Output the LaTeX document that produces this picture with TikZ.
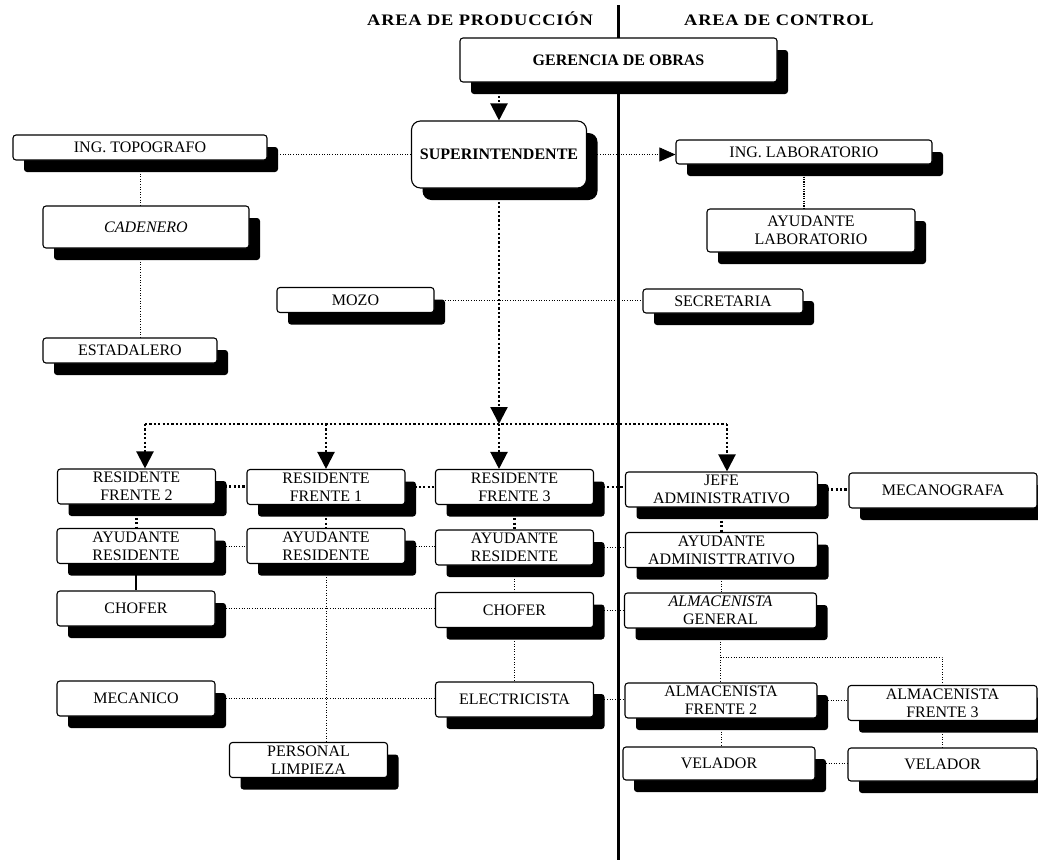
\documentclass[tikz,border=0pt]{standalone}
\usepackage{fontspec}
\setmainfont{Liberation Serif}
\usetikzlibrary{arrows.meta, backgrounds, shadows}

\begin{document}
\begin{tikzpicture}[x=1pt, y=-1pt,
        puesto/.style={draw, line width=1.1pt, fill=white, rounded corners=3pt, inner sep=0pt, align=center, font=\fontsize{16}{18}\selectfont, drop shadow={shadow xshift=11pt, shadow yshift=-12pt, fill=black, opacity=1}},
        negrita/.style={font=\fontsize{16}{18}\selectfont\bfseries},
        frente/.style={puesto, minimum width=158pt, minimum height=35pt},
        admin/.style={puesto, minimum width=192pt, minimum height=35pt},
        titulo/.style={anchor=base, font={\fontsize{16}{16}\selectfont\bfseries\addfontfeature{FakeStretch=1.15,LetterSpace=5}}},
        gruesa/.style={line width=2.2pt, dash pattern=on 2.2pt off 2.2pt},
        media/.style={line width=1.3pt, dash pattern=on 1.2pt off 1.2pt},
        fina/.style={line width=0.7pt, dash pattern=on 1pt off 1.6pt},
        flecha/.style={-{Triangle[width=17pt,length=17pt]}},
        flechita/.style={-{Triangle[width=14pt,length=16pt]}}]
        \useasboundingbox (0,0) rectangle (1038,863);
        \node[titulo] (tprod) at (480,25.5) {AREA DE PRODUCCIÓN};
        \node[titulo] (tcontrol) at (779,25.5) {AREA DE CONTROL};
        \coordinate (divA) at (618,5);
        \coordinate (divB) at (618,860);
        \coordinate (busL) at (145,424);
        \coordinate (busR) at (727,424);
        \coordinate (bifurca) at (720.5,657);

        \node[puesto, negrita, minimum width=317pt, minimum height=44pt] (gerencia) at (618.5,60) {GERENCIA DE OBRAS};
        \node[puesto, negrita, rounded corners=9pt, minimum width=175pt, minimum height=67pt] (super) at (499,154.5) {SUPERINTENDENTE};
        \node[puesto, minimum width=254pt, minimum height=25pt] (topo) at (140,147.5) {ING. TOPOGRAFO};
        \node[puesto, minimum width=206pt, minimum height=42pt] (cadenero) at (146,227) {\itshape CADENERO};
        \node[puesto, minimum width=157pt, minimum height=25pt] (mozo) at (355.5,300) {MOZO};
        \node[puesto, minimum width=174pt, minimum height=25pt] (estadalero) at (130,350.5) {ESTADALERO};
        \node[puesto, minimum width=256pt, minimum height=24pt] (lab) at (804,152) {ING. LABORATORIO};
        \node[puesto, minimum width=208pt, minimum height=43pt] (ayulab) at (811,230.5) {AYUDANTE\\LABORATORIO};
        \node[puesto, minimum width=160pt, minimum height=24pt] (secretaria) at (723,301) {SECRETARIA};

        \node[frente] (r2) at (136.5,486.5) {RESIDENTE\\FRENTE 2};
        \node[frente] (r1) at (326,487) {RESIDENTE\\FRENTE 1};
        \node[frente] (r3) at (514.5,487) {RESIDENTE\\FRENTE 3};
        \node[admin] (jefe) at (721.5,489.5) {JEFE\\ADMINISTRATIVO};
        \node[admin, minimum width=188pt] (mecanografa) at (943,490.5) {MECANOGRAFA};
        \node[frente] (a2) at (136,546) {AYUDANTE\\RESIDENTE};
        \node[frente] (a1) at (326,546) {AYUDANTE\\RESIDENTE};
        \node[frente] (a3) at (514.5,547.5) {AYUDANTE\\RESIDENTE};
        \node[admin] (ayuadm) at (721.5,550) {AYUDANTE\\ADMINISTTRATIVO};
        \node[frente] (c2) at (136,608.5) {CHOFER};
        \node[frente] (c3) at (514.5,610) {CHOFER};
        \node[admin] (almgen) at (720.5,610.5) {\textit{ALMACENISTA}\\GENERAL};
        \node[frente] (mecanico) at (136,698.5) {MECANICO};
        \node[frente] (electricista) at (514.5,699.5) {ELECTRICISTA};
        \node[admin] (almf2) at (721,700.5) {ALMACENISTA\\FRENTE 2};
        \node[admin, minimum width=189pt] (almf3) at (942.5,703) {ALMACENISTA\\FRENTE 3};
        \node[frente] (limpieza) at (308.5,760) {PERSONAL\\LIMPIEZA};
        \node[admin, minimum height=33pt] (vel2) at (719,763.5) {VELADOR};
        \node[admin, minimum width=189pt, minimum height=33pt] (vel3) at (942.5,764.5) {VELADOR};

        \begin{scope}[on background layer]
        \fill[white] (0,0) rectangle (1038,863);
        \draw[line width=3pt] (divA) -- (divB);
        \draw[gruesa, flecha] (super.north |- gerencia.south) -- (super.north);
        \draw[gruesa, flecha] (super.south) -- (super.south |- busL);
        \draw[gruesa] (busL) -- (busR);
        \draw[gruesa, flecha] (busL) -- (busL |- r2.north);
        \draw[gruesa, flecha] (r1.north |- busL) -- (r1.north);
        \draw[gruesa, flecha] (super.south |- busL) -- (super.south |- r3.north);
        \draw[gruesa, flecha] (busR) -- (busR |- jefe.north);
        \draw[gruesa] (r2.east) -- (r2.east -| r1.west);
        \draw[gruesa] (r1.east) -- (r1.east -| r3.west);
        \draw[gruesa] (r3.east) -- (r3.east -| jefe.west);
        \draw[gruesa] (jefe.east) -- (jefe.east -| mecanografa.west);
        \draw[gruesa] (r2.south) -- (r2.south |- a2.north);
        \draw[gruesa] (r1.south) -- (a1.north);
        \draw[gruesa] (r3.south) -- (r3.south |- a3.north);
        \draw[gruesa] (jefe.south) -- (jefe.south |- ayuadm.north);
        \draw[line width=1.2pt] (a2.south) -- (c2.north);
        \draw[fina] (a2.east) -- (a2.east -| a1.west);
        \draw[fina] (a1.east) -- (a1.east -| a3.west);
        \draw[fina] (a3.east) -- (a3.east -| ayuadm.west);
        \draw[fina] (c2.east) -- (c2.east -| c3.west);
        \draw[fina] (c3.east) -- (c3.east -| almgen.west);
        \draw[fina] (mecanico.east) -- (mecanico.east -| electricista.west);
        \draw[fina] (electricista.east) -- (electricista.east -| almf2.west);
        \draw[fina] (a1.south) -- (a1.south |- limpieza.north);
        \draw[fina] (a3.south) -- (c3.north);
        \draw[fina] (c3.south) -- (electricista.north);
        \draw[fina] (ayuadm.south) -- (ayuadm.south |- almgen.north);
        \draw[fina] (almgen.south) -- (almgen.south |- almf2.north);
        \draw[fina] (bifurca) -| (almf3.north);
        \draw[fina] (almf2.east) -- (almf2.east -| almf3.west);
        \draw[fina] (almf2.south) -- (almf2.south |- vel2.north);
        \draw[fina] (almf3.south) -- (vel3.north);
        \draw[fina] (vel2.east) -- (vel2.east -| vel3.west);
        \draw[fina] (super.west) -- (super.west -| topo.east);
        \draw[fina, flechita] (super.east) -- (super.east -| lab.west);
        \draw[fina] (topo.south) -- (topo.south |- cadenero.north);
        \draw[fina] (topo.south |- cadenero.south) -- (topo.south |- estadalero.north);
        \draw[media] (lab.south) -- (lab.south |- ayulab.north);
        \draw[fina] (mozo.east) -- (mozo.east -| secretaria.west);
        \end{scope}
    \end{tikzpicture}
\end{document}
